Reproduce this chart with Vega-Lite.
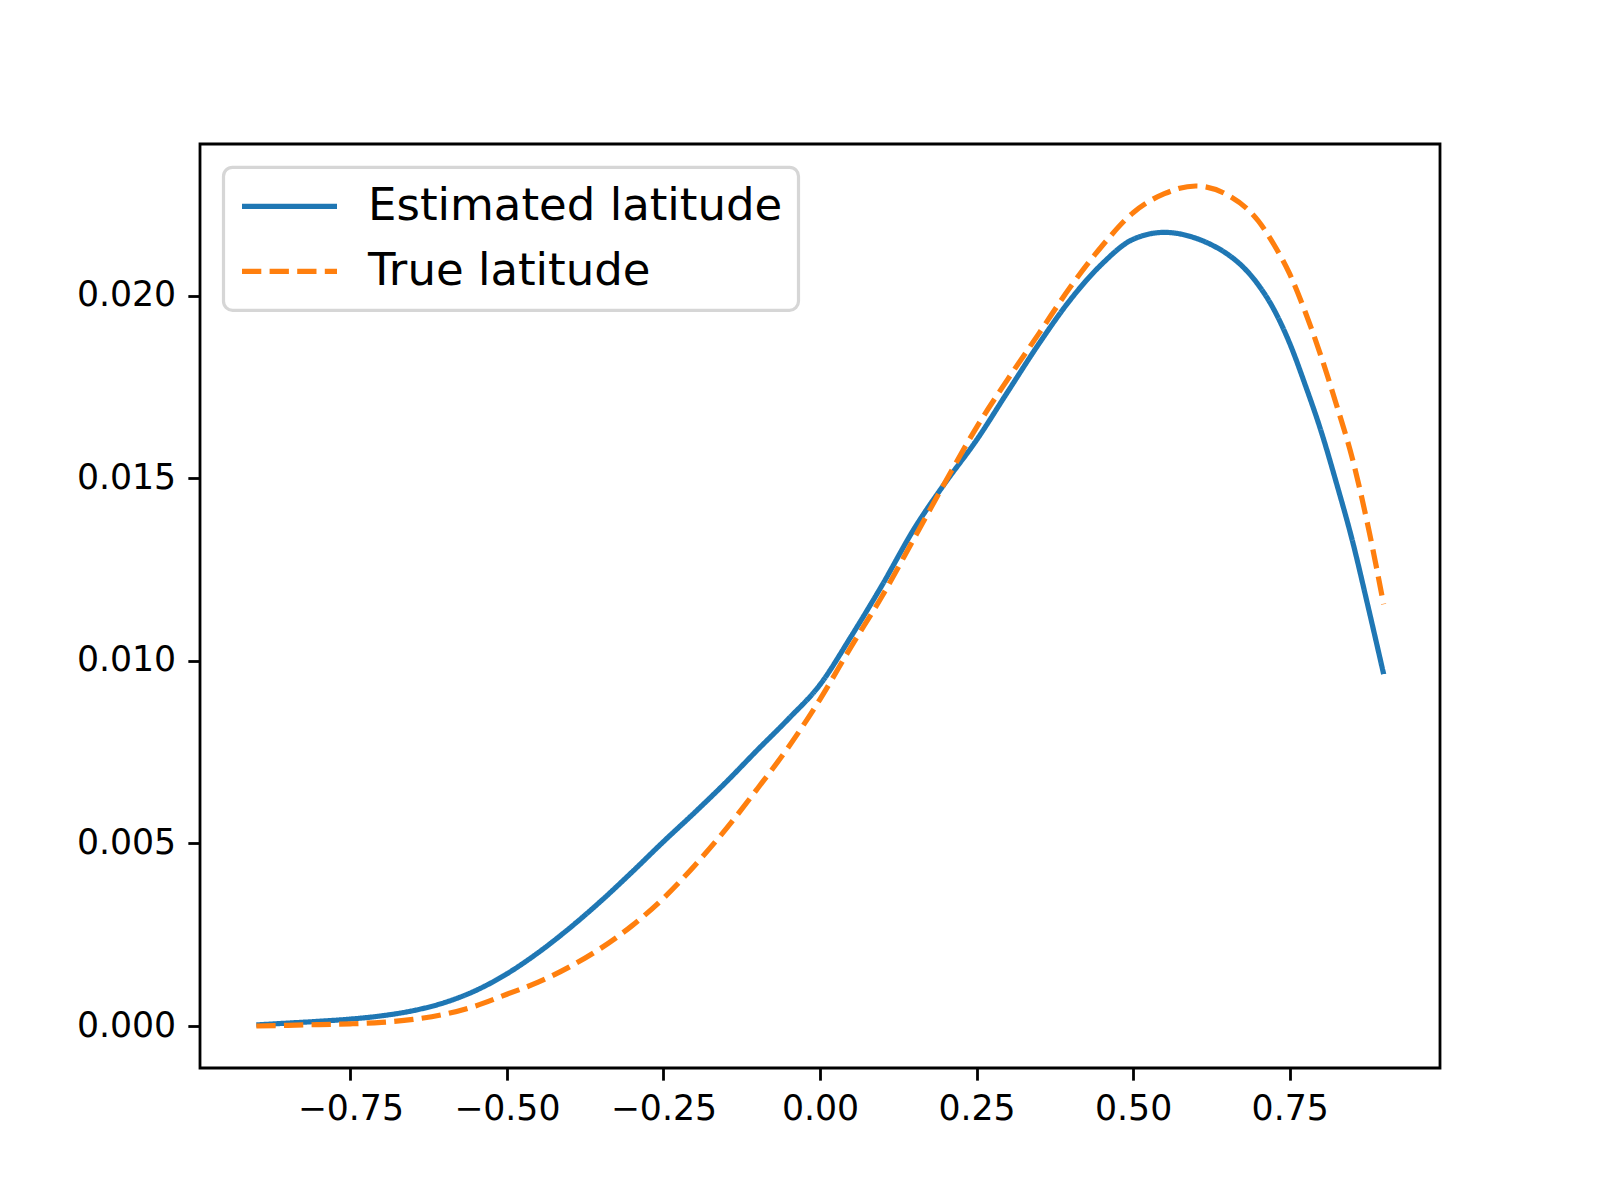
{
  "$schema": "https://vega.github.io/schema/vega-lite/v6.json",
  "width": 1240,
  "height": 924,
  "autosize": "none",
  "padding": {"left": 200, "top": 144, "right": 160, "bottom": 132},
  "background": "white",
  "data": {
    "values": [
      {"x": -0.90, "density": 0.00003, "series": "Estimated latitude"},
      {"x": -0.85, "density": 0.00008, "series": "Estimated latitude"},
      {"x": -0.80, "density": 0.00013, "series": "Estimated latitude"},
      {"x": -0.75, "density": 0.00019, "series": "Estimated latitude"},
      {"x": -0.70, "density": 0.00028, "series": "Estimated latitude"},
      {"x": -0.65, "density": 0.00042, "series": "Estimated latitude"},
      {"x": -0.60, "density": 0.00064, "series": "Estimated latitude"},
      {"x": -0.55, "density": 0.00097, "series": "Estimated latitude"},
      {"x": -0.50, "density": 0.00143, "series": "Estimated latitude"},
      {"x": -0.45, "density": 0.00201, "series": "Estimated latitude"},
      {"x": -0.40, "density": 0.00268, "series": "Estimated latitude"},
      {"x": -0.35, "density": 0.00342, "series": "Estimated latitude"},
      {"x": -0.30, "density": 0.00422, "series": "Estimated latitude"},
      {"x": -0.25, "density": 0.00505, "series": "Estimated latitude"},
      {"x": -0.20, "density": 0.00585, "series": "Estimated latitude"},
      {"x": -0.15, "density": 0.00668, "series": "Estimated latitude"},
      {"x": -0.10, "density": 0.00756, "series": "Estimated latitude"},
      {"x": -0.05, "density": 0.00842, "series": "Estimated latitude"},
      {"x": 0.00, "density": 0.00935, "series": "Estimated latitude"},
      {"x": 0.05, "density": 0.01068, "series": "Estimated latitude"},
      {"x": 0.10, "density": 0.01210, "series": "Estimated latitude"},
      {"x": 0.15, "density": 0.01361, "series": "Estimated latitude"},
      {"x": 0.20, "density": 0.01488, "series": "Estimated latitude"},
      {"x": 0.25, "density": 0.01605, "series": "Estimated latitude"},
      {"x": 0.30, "density": 0.01738, "series": "Estimated latitude"},
      {"x": 0.35, "density": 0.01870, "series": "Estimated latitude"},
      {"x": 0.40, "density": 0.01990, "series": "Estimated latitude"},
      {"x": 0.45, "density": 0.02087, "series": "Estimated latitude"},
      {"x": 0.50, "density": 0.02155, "series": "Estimated latitude"},
      {"x": 0.55, "density": 0.02174, "series": "Estimated latitude"},
      {"x": 0.60, "density": 0.02158, "series": "Estimated latitude"},
      {"x": 0.625, "density": 0.02140, "series": "Estimated latitude"},
      {"x": 0.65, "density": 0.02115, "series": "Estimated latitude"},
      {"x": 0.675, "density": 0.02080, "series": "Estimated latitude"},
      {"x": 0.70, "density": 0.02030, "series": "Estimated latitude"},
      {"x": 0.725, "density": 0.01962, "series": "Estimated latitude"},
      {"x": 0.75, "density": 0.01870, "series": "Estimated latitude"},
      {"x": 0.775, "density": 0.01755, "series": "Estimated latitude"},
      {"x": 0.80, "density": 0.01630, "series": "Estimated latitude"},
      {"x": 0.825, "density": 0.01485, "series": "Estimated latitude"},
      {"x": 0.85, "density": 0.01330, "series": "Estimated latitude"},
      {"x": 0.875, "density": 0.01150, "series": "Estimated latitude"},
      {"x": 0.90, "density": 0.00964, "series": "Estimated latitude"},
      {"x": -0.90, "density": 0.00000, "series": "True latitude"},
      {"x": -0.85, "density": 0.00002, "series": "True latitude"},
      {"x": -0.80, "density": 0.00004, "series": "True latitude"},
      {"x": -0.75, "density": 0.00006, "series": "True latitude"},
      {"x": -0.70, "density": 0.00010, "series": "True latitude"},
      {"x": -0.65, "density": 0.00018, "series": "True latitude"},
      {"x": -0.60, "density": 0.00032, "series": "True latitude"},
      {"x": -0.55, "density": 0.00055, "series": "True latitude"},
      {"x": -0.50, "density": 0.00087, "series": "True latitude"},
      {"x": -0.45, "density": 0.00120, "series": "True latitude"},
      {"x": -0.40, "density": 0.00162, "series": "True latitude"},
      {"x": -0.35, "density": 0.00213, "series": "True latitude"},
      {"x": -0.30, "density": 0.00275, "series": "True latitude"},
      {"x": -0.25, "density": 0.00350, "series": "True latitude"},
      {"x": -0.20, "density": 0.00440, "series": "True latitude"},
      {"x": -0.15, "density": 0.00540, "series": "True latitude"},
      {"x": -0.10, "density": 0.00650, "series": "True latitude"},
      {"x": -0.05, "density": 0.00765, "series": "True latitude"},
      {"x": 0.00, "density": 0.00895, "series": "True latitude"},
      {"x": 0.05, "density": 0.01040, "series": "True latitude"},
      {"x": 0.10, "density": 0.01180, "series": "True latitude"},
      {"x": 0.15, "density": 0.01335, "series": "True latitude"},
      {"x": 0.20, "density": 0.01490, "series": "True latitude"},
      {"x": 0.25, "density": 0.01640, "series": "True latitude"},
      {"x": 0.30, "density": 0.01772, "series": "True latitude"},
      {"x": 0.35, "density": 0.01898, "series": "True latitude"},
      {"x": 0.40, "density": 0.02025, "series": "True latitude"},
      {"x": 0.45, "density": 0.02136, "series": "True latitude"},
      {"x": 0.50, "density": 0.02228, "series": "True latitude"},
      {"x": 0.55, "density": 0.02280, "series": "True latitude"},
      {"x": 0.60, "density": 0.02301, "series": "True latitude"},
      {"x": 0.65, "density": 0.02277, "series": "True latitude"},
      {"x": 0.70, "density": 0.02205, "series": "True latitude"},
      {"x": 0.725, "density": 0.02140, "series": "True latitude"},
      {"x": 0.75, "density": 0.02060, "series": "True latitude"},
      {"x": 0.775, "density": 0.01955, "series": "True latitude"},
      {"x": 0.80, "density": 0.01835, "series": "True latitude"},
      {"x": 0.825, "density": 0.01700, "series": "True latitude"},
      {"x": 0.85, "density": 0.01555, "series": "True latitude"},
      {"x": 0.875, "density": 0.01370, "series": "True latitude"},
      {"x": 0.90, "density": 0.01155, "series": "True latitude"}
    ]
  },
  "mark": {"type": "line", "strokeWidth": 5.2, "interpolate": "monotone", "clip": true},
  "encoding": {
    "x": {
      "field": "x",
      "type": "quantitative",
      "scale": {"domain": [-0.99, 0.99], "nice": false, "zero": false},
      "axis": {
        "values": [-0.75, -0.5, -0.25, 0, 0.25, 0.5, 0.75],
        "format": ".2f",
        "title": null
      }
    },
    "y": {
      "field": "density",
      "type": "quantitative",
      "scale": {"domain": [-0.00115, 0.02416], "nice": false, "zero": false},
      "axis": {
        "values": [0, 0.005, 0.01, 0.015, 0.02],
        "format": ".3f",
        "title": null
      }
    },
    "color": {
      "field": "series",
      "type": "nominal",
      "scale": {
        "domain": ["Estimated latitude", "True latitude"],
        "range": ["#1f77b4", "#ff7f0e"]
      },
      "legend": {
        "title": null,
        "orient": "none",
        "legendX": 23.5,
        "legendY": 23.3,
        "padding": 15.5,
        "symbolType": "stroke",
        "symbolSize": 9025,
        "symbolStrokeWidth": 5.2,
        "symbolOffset": 0,
        "clipHeight": 47,
        "rowPadding": 18,
        "labelOffset": 28,
        "labelLimit": 1000,
        "labelFont": "DejaVu Sans",
        "labelFontSize": 45,
        "labelColor": "black",
        "fillColor": "white",
        "strokeColor": "#d6d6d6",
        "cornerRadius": 9
      }
    },
    "strokeDash": {
      "field": "series",
      "type": "nominal",
      "scale": {
        "domain": ["Estimated latitude", "True latitude"],
        "range": [[1, 0], [19.3, 8.3]]
      },
      "legend": {
        "title": null,
        "orient": "none",
        "legendX": 23.5,
        "legendY": 23.3,
        "padding": 15.5,
        "symbolType": "stroke",
        "symbolSize": 9025,
        "symbolStrokeWidth": 5.2,
        "symbolOffset": 0,
        "clipHeight": 47,
        "rowPadding": 18,
        "labelOffset": 28,
        "labelLimit": 1000,
        "labelFont": "DejaVu Sans",
        "labelFontSize": 45,
        "labelColor": "black",
        "fillColor": "white",
        "strokeColor": "#d6d6d6",
        "cornerRadius": 9
      }
    }
  },
  "config": {
    "view": {"stroke": "black", "strokeWidth": 2.8},
    "legend": {"strokeWidth": 3.2},
    "axis": {
      "grid": false,
      "domain": false,
      "tickColor": "black",
      "tickSize": 12.15,
      "tickWidth": 2.8,
      "labelPadding": 12.15,
      "labelFont": "DejaVu Sans",
      "labelFontSize": 34.7,
      "labelColor": "black"
    }
  }
}
